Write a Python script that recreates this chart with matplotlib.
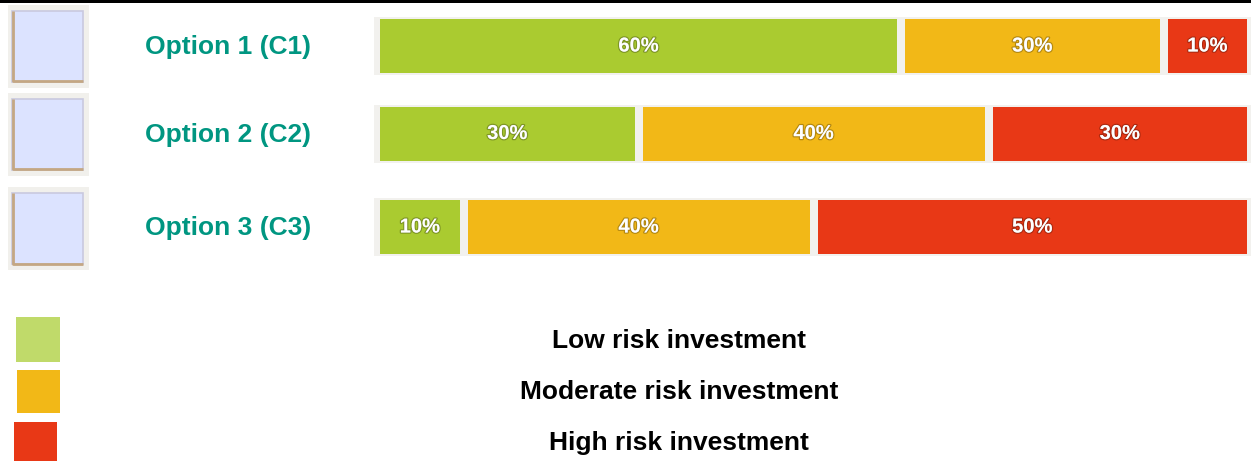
import numpy as np
import matplotlib
matplotlib.use("Agg")
import matplotlib.pyplot as plt
import matplotlib.patheffects as pe
from matplotlib.patches import Rectangle

# data
options = ["Option 1 (C1)", "Option 2 (C2)", "Option 3 (C3)"]
low = [60, 30, 10]
moderate = [30, 40, 40]
high = [10, 30, 50]
risk_labels = ["Low risk investment", "Moderate risk investment", "High risk investment"]

# colours
bar_colors = ["#AACB30", "#F2B817", "#E83816"]
legend_colors = ["#C0DA6A", "#F2B817", "#E83816"]
teal = "#009681"

plt.rcParams["font.family"] = ["Liberation Sans", "DejaVu Sans"]

W, H = 1251, 461
fig = plt.figure(figsize=(W / 100, H / 100), dpi=100)

# pixel-space axes for decorations
bg = fig.add_axes([0, 0, 1, 1])
bg.set_xlim(0, W)
bg.set_ylim(H, 0)
bg.axis("off")

# top black rule
bg.add_patch(Rectangle((0, 0), W, 3, color="black", lw=0))

row_y = [46, 133.5, 227]
box_top = [5, 93, 187]

for i, name in enumerate(options):
    # checkbox
    t = box_top[i]
    bg.add_patch(Rectangle((8, t), 81, 83, color="#F1F0EC", lw=0))
    bg.add_patch(Rectangle((12, t + 6), 71, 71, facecolor="#DCE3FF",
                           edgecolor="#C9C9DF", lw=1.2))
    bg.plot([12.5, 12.5, 82.5], [t + 6, t + 76.5, t + 76.5], color="#C4A783", lw=2,
            solid_capstyle="butt")
    # label
    bg.text(228, row_y[i] + 1, name, color=teal, fontsize=19, fontweight="bold",
            ha="center", va="center")
    # grey container behind bars
    bg.add_patch(Rectangle((374, row_y[i] - 29), W - 374, 58, color="#F2F1EE", lw=0))

# legend swatches and labels
sw = [(16, 317, 44, 45), (17, 370, 43, 43), (14, 422, 43, 45)]
leg_y = [341, 392, 443]
for (x, y, w, h), c, lab, ly in zip(sw, legend_colors, risk_labels, leg_y):
    bg.add_patch(Rectangle((x, y), w, h, color=c, lw=0))
    bg.text(679, ly, lab, fontsize=19, fontweight="bold", color="black",
            ha="center", va="center")

# bar axes: 0..100 percent mapped onto pixels 376..1251
ax = fig.add_axes([376 / W, 0, 875 / W, 1])
ax.set_xlim(0, 100)
ax.set_ylim(H, 0)
ax.axis("off")

gap = 8 / 875 * 100
left = np.zeros(len(options))
for vals, c in zip([low, moderate, high], bar_colors):
    vals = np.array(vals, dtype=float)
    ax.barh(row_y, vals - gap, left=left + gap / 2, height=54, color=c, lw=0)
    for y, l, v in zip(row_y, left, vals):
        ax.text(l + v / 2, y, f"{v:.0f}%", color="white", fontsize=14.5,
                fontweight="bold", ha="center", va="center",
                path_effects=[pe.withStroke(linewidth=1.8, foreground=(0, 0, 0, 0.25))])
    left += vals

fig.savefig("out.png", dpi=100)
